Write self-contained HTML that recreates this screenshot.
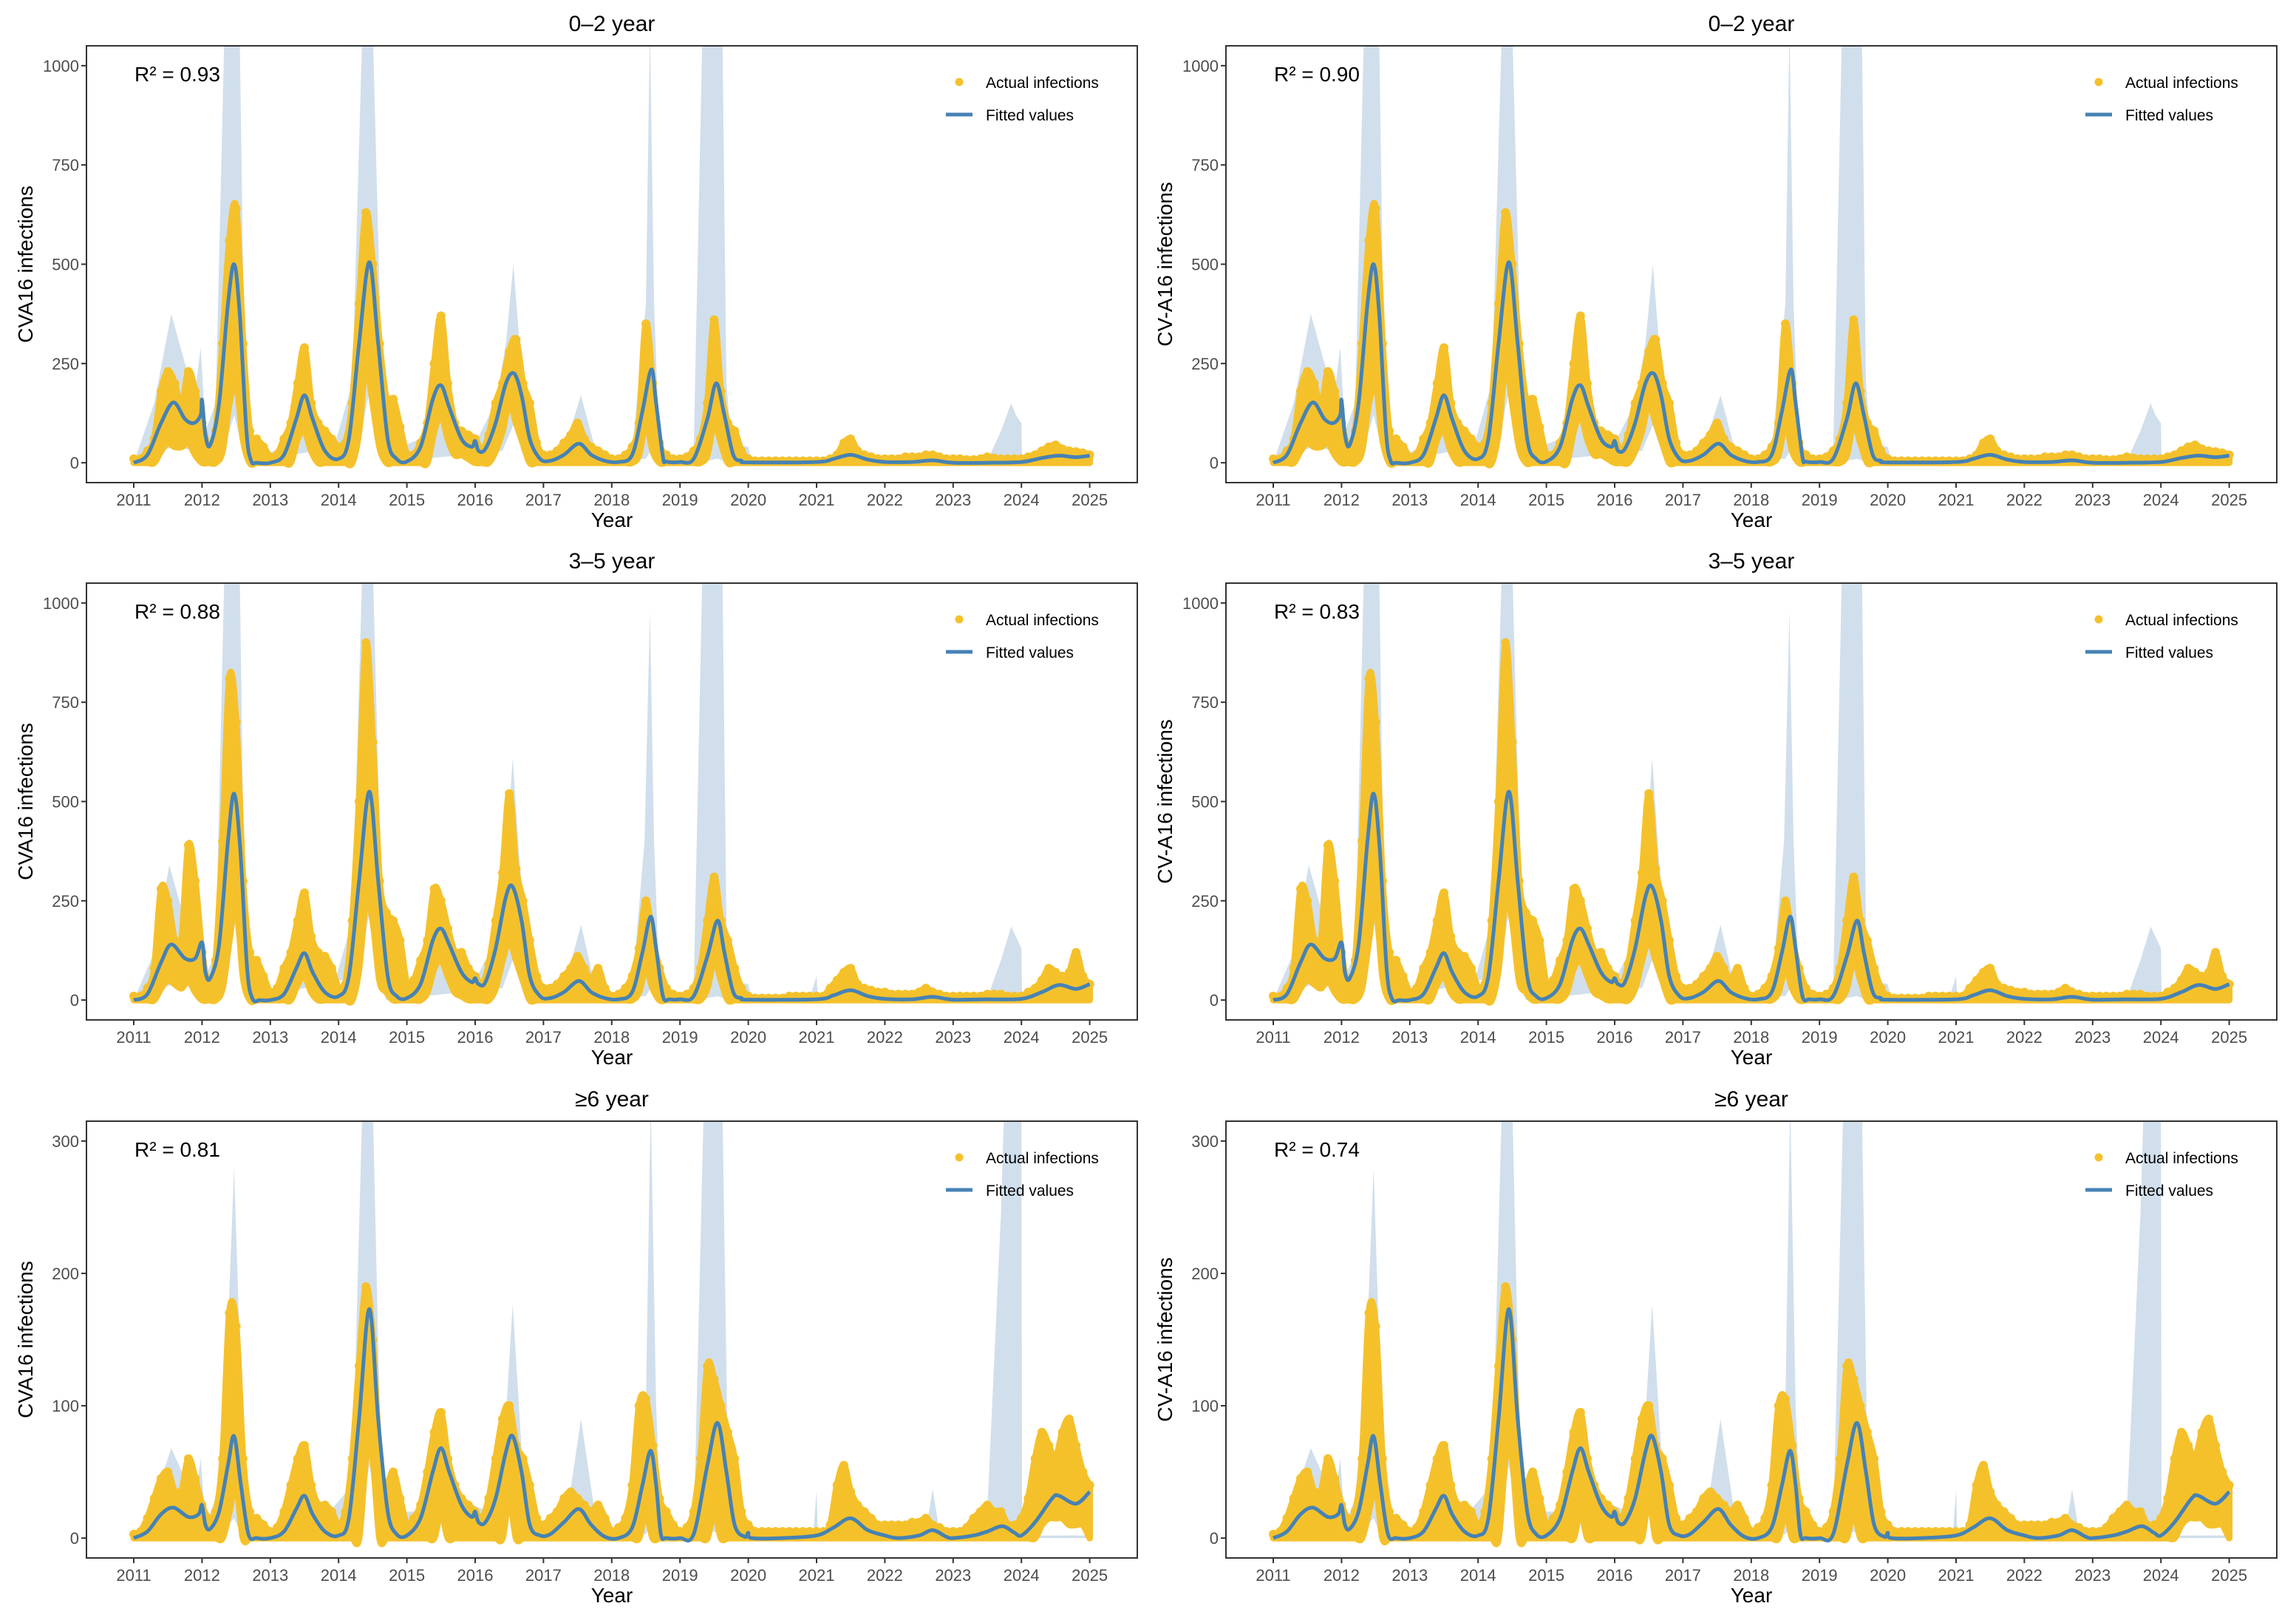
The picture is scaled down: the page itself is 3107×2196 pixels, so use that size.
<!DOCTYPE html>
<html><head><meta charset="utf-8"><style>
html,body{margin:0;padding:0;background:#fff;}
svg{display:block;font-family:"Liberation Sans",sans-serif;}
</style></head><body>
<svg id="chart" width="3107" height="2196" viewBox="0 0 3107 2196" xmlns="http://www.w3.org/2000/svg"></svg>
<script>
const years = [2011,2012,2013,2014,2015,2016,2017,2018,2019,2020,2021,2022,2023,2024,2025];
const titles = ["0–2 year","3–5 year","≥6 year"];
const r2Left = ["0.93","0.88","0.81"];
const r2Right = ["0.90","0.83","0.74"];
const yTicks0 = [0,250,500,750,1000];
const yTicks1 = [0,250,500,750,1000];
const yTicks2 = [0,100,200,300];

// observed envelopes on a 0.1-year grid starting 2011.0
const obsHi0 = [10,10,30,60,180,230,200,140,230,180, 100,40,80,300,560,640,300,80,60,40, 15,20,60,100,200,290,150,100,80,60, 40,50,150,400,630,500,300,160,160,90, 20,20,50,100,250,370,200,100,80,70, 60,30,70,150,200,280,310,200,150,50, 20,20,30,50,70,100,60,40,30,20, 10,10,20,40,100,350,200,50,20,10, 10,15,30,60,150,360,180,100,80,30, 10,5,5,5,5,5,5,5,5,5, 5,5,10,20,50,60,30,20,15,10, 10,10,10,15,15,15,20,20,15,10, 10,10,8,8,10,15,12,10,10,10, 10,15,20,30,40,45,35,30,28,25, 20];
const obsLo0 = [0,0,0,0,30,50,40,40,50,20, 0,0,0,30,150,200,60,0,0,0, 0,0,0,0,60,80,30,0,0,0, 0,0,0,80,250,150,40,0,0,0, 0,0,0,0,80,120,60,20,20,10, 0,0,0,30,80,150,100,50,0,0, 0,0,0,0,0,0,0,0,0,0, 0,0,0,0,20,100,30,0,0,0, 0,0,0,0,20,100,50,0,0,0, 0,0,0,0,0,0,0,0,0,0, 0,0,0,0,0,0,0,0,0,0, 0,0,0,0,0,0,0,0,0,0, 0,0,0,0,0,0,0,0,0,0, 0,0,0,0,0,0,0,0,0,0, 0];
const obsHi1 = [10,10,30,80,280,250,150,150,390,300, 120,40,100,400,810,700,300,120,100,60, 20,30,80,120,200,270,160,120,110,80, 30,40,200,500,900,650,300,220,200,150, 40,50,100,150,280,250,180,120,120,80, 60,40,90,200,320,520,330,250,150,60, 30,30,40,60,80,110,80,50,80,30, 10,15,30,60,130,250,150,80,30,15, 10,15,30,80,200,310,200,150,80,30, 10,5,5,5,5,5,10,10,10,10, 10,10,30,50,70,80,40,30,25,20, 20,15,15,15,15,20,30,20,15,10, 10,10,10,10,10,15,15,15,10,10, 10,20,30,50,80,70,60,70,120,60, 40];
const obsLo1 = [0,0,0,0,30,50,40,30,50,20, 0,0,0,30,150,250,60,0,0,0, 0,0,0,0,40,60,20,0,0,0, 0,0,0,80,250,200,50,20,0,0, 0,0,0,20,80,100,60,20,10,0, 0,0,0,30,100,150,100,50,0,0, 0,0,0,0,0,0,0,0,0,0, 0,0,0,0,20,80,30,0,0,0, 0,0,0,0,30,100,50,0,0,0, 0,0,0,0,0,0,0,0,0,0, 0,0,0,0,0,0,0,0,0,0, 0,0,0,0,0,0,0,0,0,0, 0,0,0,0,0,0,0,0,0,0, 0,0,0,0,0,0,0,0,0,0, 0];
const obsHi2 = [3,5,15,30,45,50,35,35,60,45, 25,15,20,60,170,160,60,20,15,10, 5,8,20,40,60,70,40,25,25,20, 10,20,60,130,190,150,60,40,50,30, 10,15,25,50,80,95,60,40,30,25, 20,15,30,60,90,100,70,60,40,15, 10,15,20,30,35,30,25,20,25,15, 5,8,15,40,100,105,70,30,20,10, 5,8,20,60,130,120,100,80,60,20, 10,5,5,5,5,5,5,5,5,5, 5,5,10,40,55,35,25,20,15,10, 10,10,10,10,12,12,15,10,8,5, 5,5,8,15,20,25,20,20,10,10, 15,30,60,80,70,60,80,90,70,50, 40];
const obsLo2 = [0,0,0,0,0,0,0,0,0,0, 0,0,0,0,20,40,0,0,0,0, 0,0,0,0,0,0,0,0,0,0, 0,0,0,0,60,60,0,0,0,0, 0,0,0,0,0,20,0,0,0,0, 0,0,0,0,0,30,0,0,0,0, 0,0,0,0,0,0,0,0,0,0, 0,0,0,0,0,20,0,0,0,0, 0,0,0,0,0,20,0,0,0,0, 0,0,0,0,0,0,0,0,0,0, 0,0,0,0,0,0,0,0,0,0, 0,0,0,0,0,0,0,0,0,0, 0,0,0,0,0,0,0,0,0,0, 0,0,0,10,15,15,15,10,10,10, 0];

// fitted-value knots
const fitT0 = [2011,2011.2,2011.4,2011.58,2011.75,2011.88,2011.98,2012,2012.05,2012.12,2012.25,2012.38,2012.47,2012.55,2012.65,2012.72,2012.8,2013,2013.2,2013.38,2013.5,2013.62,2013.8,2014,2014.15,2014.3,2014.45,2014.58,2014.72,2014.85,2015,2015.2,2015.38,2015.5,2015.62,2015.8,2015.95,2016,2016.05,2016.15,2016.3,2016.45,2016.57,2016.68,2016.8,2016.95,2017.1,2017.3,2017.52,2017.7,2017.9,2018.1,2018.3,2018.45,2018.58,2018.65,2018.75,2018.8,2019,2019.2,2019.4,2019.53,2019.65,2019.78,2019.9,2020,2021,2021.25,2021.5,2021.75,2022,2022.4,2022.7,2023,2023.5,2024,2024.3,2024.55,2024.8,2025];
const fitV0 = [0,20,100,152,110,100,120,158,70,45,150,400,500,380,80,5,0,0,20,110,170,110,30,10,60,300,505,300,60,10,3,40,160,195,140,60,40,55,30,35,100,200,225,170,60,10,5,20,48,20,5,2,20,130,235,150,15,3,2,10,110,200,120,20,5,1,2,10,20,8,2,2,6,0,0,2,12,18,14,18];
const fitT1 = [2011,2011.2,2011.4,2011.55,2011.75,2011.9,2012,2012.05,2012.12,2012.25,2012.38,2012.47,2012.56,2012.66,2012.74,2012.85,2013,2013.2,2013.38,2013.5,2013.62,2013.8,2014,2014.15,2014.3,2014.45,2014.58,2014.72,2014.85,2015,2015.2,2015.38,2015.5,2015.62,2015.8,2015.95,2016,2016.05,2016.15,2016.3,2016.45,2016.55,2016.68,2016.8,2016.95,2017.1,2017.3,2017.52,2017.7,2017.9,2018.1,2018.3,2018.45,2018.57,2018.65,2018.75,2018.85,2019,2019.2,2019.4,2019.55,2019.65,2019.78,2019.9,2020,2021,2021.25,2021.5,2021.75,2022,2022.4,2022.7,2023,2023.5,2024,2024.3,2024.55,2024.8,2025];
const fitV1 = [0,15,95,140,105,105,145,70,55,140,400,520,380,80,3,0,0,15,80,118,70,20,10,60,300,525,300,60,10,5,40,150,180,140,70,45,55,40,45,130,260,285,200,60,10,5,20,48,20,5,2,20,120,210,130,10,2,2,10,110,200,120,20,5,1,2,12,25,10,3,2,8,1,2,3,20,38,28,40];
const fitT2 = [2011,2011.2,2011.4,2011.58,2011.8,2011.95,2012,2012.05,2012.12,2012.25,2012.38,2012.47,2012.57,2012.68,2012.8,2013,2013.2,2013.38,2013.5,2013.62,2013.8,2014,2014.15,2014.3,2014.45,2014.58,2014.72,2014.85,2015,2015.2,2015.38,2015.5,2015.62,2015.8,2015.95,2016,2016.05,2016.15,2016.3,2016.45,2016.55,2016.68,2016.8,2016.95,2017.1,2017.3,2017.52,2017.7,2017.9,2018.1,2018.3,2018.45,2018.57,2018.65,2018.72,2018.8,2019,2019.2,2019.4,2019.55,2019.68,2019.8,2019.95,2020,2020.05,2020.5,2021,2021.25,2021.5,2021.75,2022,2022.2,2022.5,2022.7,2022.9,2023,2023.3,2023.5,2023.72,2023.9,2024,2024.2,2024.45,2024.55,2024.8,2025];
const fitV2 = [0,5,18,23,16,18,25,10,7,20,55,77,40,3,0,0,5,22,32,18,5,2,15,90,173,90,20,3,2,15,50,68,50,25,16,20,12,12,30,65,77,50,10,2,3,12,22,10,1,0,8,40,66,40,3,0,0,3,55,87,50,10,1,4,0,0,2,8,15,6,2,0,2,6,1,0,2,5,9,4,2,12,30,32,26,35];

// confidence band knots (upper / lower)
const bandUpT0 = [2011,2011.3,2011.55,2011.75,2011.9,2011.98,2012.05,2012.2,2012.33,2012.55,2012.62,2012.72,2012.8,2013.3,2013.5,2013.7,2013.9,2014.2,2014.35,2014.5,2014.62,2014.75,2015.2,2015.5,2015.7,2016,2016.3,2016.45,2016.56,2016.65,2016.8,2017,2017.35,2017.55,2017.75,2017.9,2018.3,2018.5,2018.56,2018.62,2018.7,2018.8,2019.2,2019.33,2019.62,2019.68,2019.75,2020,2020.05,2022,2022.6,2022.7,2022.8,2023.5,2023.7,2023.85,2023.92,2024,2024.01,2025];
const bandUpV0 = [0,150,375,250,180,290,80,150,1100,1100,250,10,0,60,200,60,20,200,1100,1100,300,30,60,220,100,50,150,300,500,300,80,10,60,170,40,5,30,400,1100,400,30,5,30,1100,1100,200,50,40,5,5,10,30,5,5,80,150,120,100,5,5];
const bandUpT1 = [2011,2011.3,2011.52,2011.75,2011.9,2011.98,2012.05,2012.2,2012.33,2012.55,2012.62,2012.72,2012.8,2013.3,2013.5,2013.7,2013.9,2014.2,2014.35,2014.5,2014.62,2014.75,2015.2,2015.5,2015.7,2016,2016.3,2016.45,2016.55,2016.65,2016.8,2017,2017.35,2017.55,2017.75,2017.9,2018.3,2018.48,2018.56,2018.62,2018.7,2018.8,2019.2,2019.33,2019.62,2019.68,2019.75,2020,2020.05,2020.9,2021,2021.02,2022,2022.6,2022.7,2022.8,2023.5,2023.7,2023.85,2023.92,2024,2024.01,2025];
const bandUpV1 = [0,120,340,200,180,250,60,120,1100,1100,250,10,0,60,150,60,20,200,1100,1100,300,30,60,210,100,50,150,350,610,350,80,10,60,190,40,5,30,400,980,400,30,5,30,1100,1100,200,50,40,5,5,60,5,5,10,35,5,5,100,185,160,130,5,5];
const bandUpT2 = [2011,2011.3,2011.55,2011.75,2011.9,2011.98,2012.05,2012.2,2012.35,2012.47,2012.58,2012.68,2012.8,2013.3,2013.5,2013.7,2014.2,2014.35,2014.5,2014.6,2014.7,2015.2,2015.5,2015.75,2016.2,2016.4,2016.55,2016.7,2016.85,2017.35,2017.55,2017.75,2017.9,2018.3,2018.5,2018.57,2018.65,2018.72,2018.8,2019.2,2019.35,2019.62,2019.7,2019.8,2020,2020.05,2020.95,2021,2021.02,2022.6,2022.7,2022.8,2023.3,2023.5,2023.7,2023.75,2024,2024.01,2025];
const bandUpV2 = [0,30,68,45,30,60,10,30,120,280,100,10,0,10,40,10,40,330,330,100,20,20,75,30,20,50,177,50,10,20,90,20,3,10,100,330,100,10,0,5,330,330,60,50,5,2,2,36,2,5,37,5,5,20,245,330,330,2,2];
const bandLoT0 = [2011,2011.4,2011.6,2011.9,2012.1,2012.35,2012.47,2012.6,2012.7,2014.3,2014.45,2014.6,2014.7,2016.4,2016.56,2016.7,2016.8,2018.5,2018.57,2018.65,2019.4,2019.55,2019.7,2025];
const bandLoV0 = [0,30,40,30,0,50,120,30,0,50,180,40,0,30,95,20,0,10,30,5,5,10,0,0];
const bandLoT1 = [2011,2011.4,2011.6,2011.9,2012.1,2012.35,2012.47,2012.6,2012.7,2014.3,2014.45,2014.6,2014.7,2016.4,2016.55,2016.7,2016.8,2018.5,2018.57,2018.65,2019.4,2019.55,2019.7,2025];
const bandLoV1 = [0,30,40,30,0,80,200,40,0,60,220,50,0,30,100,20,0,10,30,5,5,10,0,0];
const bandLoT2 = [2011,2011.55,2011.9,2012.3,2012.47,2012.6,2014.3,2014.45,2014.6,2015.3,2015.5,2015.7,2016.4,2016.55,2016.7,2018.5,2018.57,2018.65,2019.4,2019.5,2019.7,2025];
const bandLoV2 = [0,5,0,5,15,0,10,55,10,5,30,5,5,30,5,3,10,2,3,5,0,0];

const datasets = [
 {obsHi:obsHi0, obsLo:obsLo0, fitT:fitT0, fitV:fitV0, upT:bandUpT0, upV:bandUpV0, loT:bandLoT0, loV:bandLoV0, ticks:yTicks0, dom:[-50,1050]},
 {obsHi:obsHi1, obsLo:obsLo1, fitT:fitT1, fitV:fitV1, upT:bandUpT1, upV:bandUpV1, loT:bandLoT1, loV:bandLoV1, ticks:yTicks1, dom:[-50,1050]},
 {obsHi:obsHi2, obsLo:obsLo2, fitT:fitT2, fitV:fitV2, upT:bandUpT2, upV:bandUpV2, loT:bandLoT2, loV:bandLoV2, ticks:yTicks2, dom:[-15,315]}
];

const NS = "http://www.w3.org/2000/svg";
const svg = document.getElementById("chart");
function mk(tag, attrs, parent){
  const e = document.createElementNS(NS, tag);
  for (const k in attrs) e.setAttribute(k, attrs[k]);
  (parent||svg).appendChild(e);
  return e;
}
const YELLOW = "#F5C12B", BLUE = "#4682B4", BAND = "#D1DFEC";
const rowTop = [62, 789, 1517];
const PH = 591, PW = 1422;
const colLeft = [117, 1659];

function smoothD(pts, start){
  let d = (start ? "M" : "L") + pts[0][0].toFixed(1) + "," + pts[0][1].toFixed(1);
  for (let i=0;i<pts.length-1;i++){
    const p0 = pts[Math.max(0,i-1)], p1 = pts[i], p2 = pts[i+1], p3 = pts[Math.min(pts.length-1,i+2)];
    const c1x = p1[0] + (p2[0]-p0[0])/6, c1y = p1[1] + (p2[1]-p0[1])/6;
    const c2x = p2[0] - (p3[0]-p1[0])/6, c2y = p2[1] - (p3[1]-p1[1])/6;
    d += " C" + c1x.toFixed(1)+","+c1y.toFixed(1)+" "+c2x.toFixed(1)+","+c2y.toFixed(1)+" "+p2[0].toFixed(1)+","+p2[1].toFixed(1);
  }
  return d;
}

for (let r=0;r<3;r++){
  for (let c=0;c<2;c++){
    const ds = datasets[r];
    const L = colLeft[c], T = rowTop[r];
    const xS = t => L + 64 + (t-2011)*92.4;
    const yS = v => T + PH - (v-ds.dom[0])/(ds.dom[1]-ds.dom[0])*PH;
    const g = mk("g", {});
    
    
    const cid = "clip"+r+c;
    const cp = mk("clipPath", {id:cid}, g);
    mk("rect", {x:L, y:T, width:PW, height:PH}, cp);
    const plot = mk("g", {"clip-path":"url(#"+cid+")"}, g);

    // band
    let bd = "";
    ds.upT.forEach((t,i)=>{ bd += (i?"L":"M") + xS(t).toFixed(1)+","+yS(ds.upV[i]).toFixed(1)+" "; });
    for (let i=ds.loT.length-1;i>=0;i--) bd += "L"+xS(ds.loT[i]).toFixed(1)+","+yS(ds.loV[i]).toFixed(1)+" ";
    const band = mk("path", {d:bd+"Z", fill:BAND}, plot);
    
    

    // actual infections: dense cloud between lo and hi, plus dots
    const og = mk("g", {}, plot);
    
    
    const hiPts = ds.obsHi.map((v,i)=>[xS(2011+i*0.1), yS(v)]);
    const loPts = ds.obsLo.map((v,i)=>[xS(2011+i*0.1), yS(v)]).reverse();
    const cloud = mk("path", {d:smoothD(hiPts,true)+" "+smoothD(loPts,false)+" Z", fill:YELLOW, stroke:YELLOW, "stroke-width":9, "stroke-linejoin":"round"}, og);
    
    
    ds.obsHi.forEach((hi,i)=>{
      const dot = mk("circle", {cx:xS(2011+i*0.1), cy:yS(hi), r:6, fill:YELLOW}, og);
      
      
    });

    // fitted
    const pts = ds.fitT.map((t,i)=>[xS(t), yS(ds.fitV[i])]);
    const fl = mk("path", {d:smoothD(pts,true), fill:"none", stroke:BLUE, "stroke-width":5, "stroke-linejoin":"round"}, plot);
    
    

    // frame
    const fr = mk("rect", {x:L, y:T, width:PW, height:PH, fill:"none", stroke:"#333", "stroke-width":2}, g);
    
    

    ds.ticks.forEach(v=>{
      const y = yS(v);
      mk("line", {x1:L-7, x2:L, y1:y, y2:y, stroke:"#333", "stroke-width":2}, g);
      const tx = mk("text", {x:L-10, y:y+8, "text-anchor":"end", "font-size":22, fill:"#4d4d4d"}, g);
      tx.textContent = v;
      
      
    });
    years.forEach(yr=>{
      const x = xS(yr);
      mk("line", {x1:x, x2:x, y1:T+PH, y2:T+PH+7, stroke:"#333", "stroke-width":2}, g);
      const tx = mk("text", {x:x, y:T+PH+31, "text-anchor":"middle", "font-size":22, fill:"#4d4d4d"}, g);
      tx.textContent = yr;
      
      
    });
    const xt = mk("text", {x:L+PW/2, y:T+PH+60, "text-anchor":"middle", "font-size":28, fill:"#000"}, g);
    xt.textContent = "Year";
    
    
    const yt = mk("text", {x:0, y:0, "text-anchor":"middle", "font-size":28, fill:"#000", transform:"translate("+(L-73)+","+(T+PH/2)+") rotate(-90)"}, g);
    yt.textContent = c===0 ? "CVA16 infections" : "CV-A16 infections";
    
    
    const tt = mk("text", {x:L+PW/2, y:T-20, "text-anchor":"middle", "font-size":30, fill:"#000"}, g);
    tt.textContent = titles[r];
    
    
    const rt = mk("text", {x:L+65, y:T+48, "font-size":28, fill:"#000"}, g);
    rt.textContent = "R² = " + (c===0 ? r2Left[r] : r2Right[r]);
    
    

    const lg = mk("g", {}, g);
    
    
    mk("circle", {cx:L+1181, cy:T+49, r:5.5, fill:YELLOW}, lg);
    const l1 = mk("text", {x:L+1217, y:T+57, "font-size":21, fill:"#000"}, lg);
    l1.textContent = "Actual infections";
    
    
    mk("line", {x1:L+1163, x2:L+1199, y1:T+93, y2:T+93, stroke:BLUE, "stroke-width":5}, lg);
    const l2 = mk("text", {x:L+1217, y:T+101, "font-size":21, fill:"#000"}, lg);
    l2.textContent = "Fitted values";
    
    
  }
}
</script>
</body></html>
